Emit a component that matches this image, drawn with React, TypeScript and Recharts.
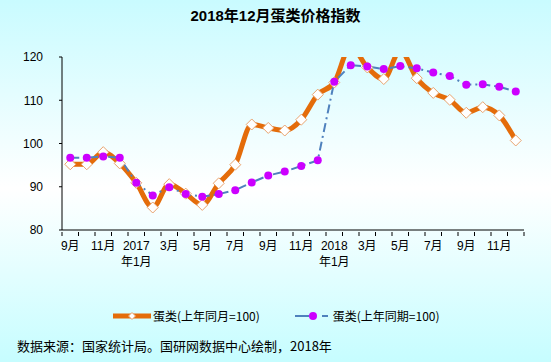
import React from 'react';
import { LineChart, Line, XAxis, YAxis, Legend } from 'recharts';

// 2016年9月 - 2018年12月
const periods = [
  '2016-09', '2016-10', '2016-11', '2016-12',
  '2017-01', '2017-02', '2017-03', '2017-04', '2017-05', '2017-06',
  '2017-07', '2017-08', '2017-09', '2017-10', '2017-11', '2017-12',
  '2018-01', '2018-02', '2018-03', '2018-04', '2018-05', '2018-06',
  '2018-07', '2018-08', '2018-09', '2018-10', '2018-11', '2018-12',
];

const tickLabels = [
  '9月', '10月', '11月', '12月',
  '2017年1月', '2月', '3月', '4月', '5月', '6月', '7月', '8月', '9月', '10月', '11月', '12月',
  '2018年1月', '2月', '3月', '4月', '5月', '6月', '7月', '8月', '9月', '10月', '11月', '12月',
];

// 蛋类(上年同月=100)
const sameMonth = [
  95.2, 95.2, 98.0, 95.4, 90.9, 85.2, 90.6, 88.4, 85.8, 90.8, 95.1, 104.4, 103.6, 103.0,
  105.5, 111.3, 114.1, 122.5, 117.6, 114.9, 121.5, 115.1, 111.7, 110.1, 107.1, 108.4, 106.5, 100.7,
];

// 蛋类(上年同期=100)
const samePeriod = [
  96.7, 96.7, 97.0, 96.7, 90.9, 88.0, 89.9, 88.3, 87.7, 88.3, 89.2, 91.0, 92.6, 93.5,
  94.8, 96.1, 114.3, 118.1, 117.8, 117.2, 117.9, 117.4, 116.4, 115.6, 113.6, 113.7, 113.1, 112.0,
];

const yTicks = [80, 90, 100, 110, 120];

const data = periods.map((p, i) => ({
  period: p,
  sameMonth: sameMonth[i],
  samePeriod: samePeriod[i],
}));

const W = 551;
const H = 362;
const MARGIN = { top: 57, right: 27, left: 0, bottom: 92 };
const Y_WIDTH = 62;
const BAND = (W - MARGIN.left - MARGIN.right - Y_WIDTH) / periods.length;

const ORANGE = '#E46C0A';
const BLUE = '#4F81BD';
const PURPLE = '#CC00FF';
const FONT = '"Liberation Sans", "Noto Sans CJK SC", sans-serif';
const CJK = '"Noto Sans CJK SC", sans-serif';

function Diamond(props: any) {
  const { cx, cy } = props;
  if (cx == null || cy == null) return null;
  const r = 5.5;
  return (
    <polygon
      points={`${cx},${cy - r} ${cx + r},${cy} ${cx},${cy + r} ${cx - r},${cy}`}
      fill="#fff"
      stroke="#E9A36E"
      strokeWidth={1}
    />
  );
}

// tick marks sit on the band edges (pointing up), labels on every other month
function MonthTick(props: any) {
  const { x, y, payload, index } = props;
  const i = payload?.index ?? index;
  const label = i % 2 === 0 ? tickLabels[i] : '';
  const parts = label.includes('年') ? [label.split('年')[0], '年' + label.split('年')[1]] : [label];
  const left = x - BAND / 2;
  return (
    <g>
      <line x1={left} y1={y} x2={left} y2={y - 4} stroke="#000" />
      {i === periods.length - 1 && (
        <line x1={x + BAND / 2} y1={y} x2={x + BAND / 2} y2={y - 4} stroke="#000" />
      )}
      {label && (
        <text x={x} y={y} textAnchor="middle" fontSize={12} fontFamily={FONT} fill="#000">
          {parts.map((t, k) => (
            <tspan key={k} x={x} dy={k === 0 ? 14 : 16}>
              {t}
            </tspan>
          ))}
        </text>
      )}
    </g>
  );
}

function LegendBox() {
  const text = { fontSize: 12, fontFamily: CJK, color: '#000', lineHeight: '14px' };
  return (
    <div style={{ display: 'flex', alignItems: 'center', paddingLeft: 113 }}>
      <svg width={40} height={12}>
        <line x1={0} y1={6} x2={38} y2={6} stroke={ORANGE} strokeWidth={5} />
        <polygon points="19,2.5 22.5,6 19,9.5 15.5,6" fill="#fff" stroke="#E9A36E" />
      </svg>
      <span style={text}>蛋类(上年同月=100)</span>
      <svg width={38} height={12} style={{ marginLeft: 35 }}>
        <line x1={0} y1={6} x2={14} y2={6} stroke={BLUE} strokeWidth={2} />
        <circle cx={18} cy={6} r={4} fill={PURPLE} />
        <line x1={27} y1={6} x2={33} y2={6} stroke={BLUE} strokeWidth={2} />
      </svg>
      <span style={text}>蛋类(上年同期=100)</span>
    </div>
  );
}

export default function App() {
  return (
    <div
      style={{
        position: 'absolute',
        left: 0,
        top: 0,
        width: W,
        height: H,
        background: 'linear-gradient(to bottom, #c9fbff 0%, #ffffff 52%, #c6fdff 100%)',
        fontFamily: FONT,
      }}
    >
      <div
        style={{
          position: 'absolute',
          top: 4,
          left: 0,
          width: W,
          textAlign: 'center',
          fontSize: 15,
          fontWeight: 'bold',
          fontFamily: FONT,
          color: '#000',
        }}
      >
        2018年12月蛋类价格指数
      </div>
      <LineChart width={W} height={H} data={data} margin={MARGIN}>
        <XAxis
          dataKey="period"
          scale="band"
          interval={0}
          height={40}
          axisLine={{ stroke: '#000' }}
          tickLine={false}
          tickSize={0}
          tickMargin={6}
          tick={<MonthTick />}
        />
        <YAxis
          domain={[80, 120]}
          ticks={yTicks}
          allowDataOverflow
          width={Y_WIDTH}
          tickSize={3}
          tickMargin={16}
          axisLine={{ stroke: '#000' }}
          tickLine={{ stroke: '#000' }}
          tick={{ fontSize: 12, fill: '#000', fontFamily: FONT }}
        />
        <Legend
          layout="horizontal"
          verticalAlign="middle"
          align="center"
          wrapperStyle={{ top: 309, left: 0, width: W }}
          content={() => <LegendBox />}
        />
        <Line
          type="monotone"
          dataKey="sameMonth"
          stroke={ORANGE}
          strokeWidth={5}
          dot={<Diamond />}
          activeDot={false}
          isAnimationActive={false}
        />
        <Line
          type="linear"
          dataKey="samePeriod"
          stroke={BLUE}
          strokeWidth={2}
          strokeDasharray="9 4 2 4"
          dot={{ r: 4, fill: PURPLE, stroke: PURPLE, strokeWidth: 0 }}
          activeDot={false}
          isAnimationActive={false}
        />
      </LineChart>
      <div
        style={{
          position: 'absolute',
          left: 17,
          top: 338,
          fontSize: 13,
          fontFamily: CJK,
          color: '#000',
          lineHeight: '16px',
          whiteSpace: 'nowrap',
        }}
      >
        数据来源：国家统计局。国研网数据中心绘制，2018年
      </div>
    </div>
  );
}
